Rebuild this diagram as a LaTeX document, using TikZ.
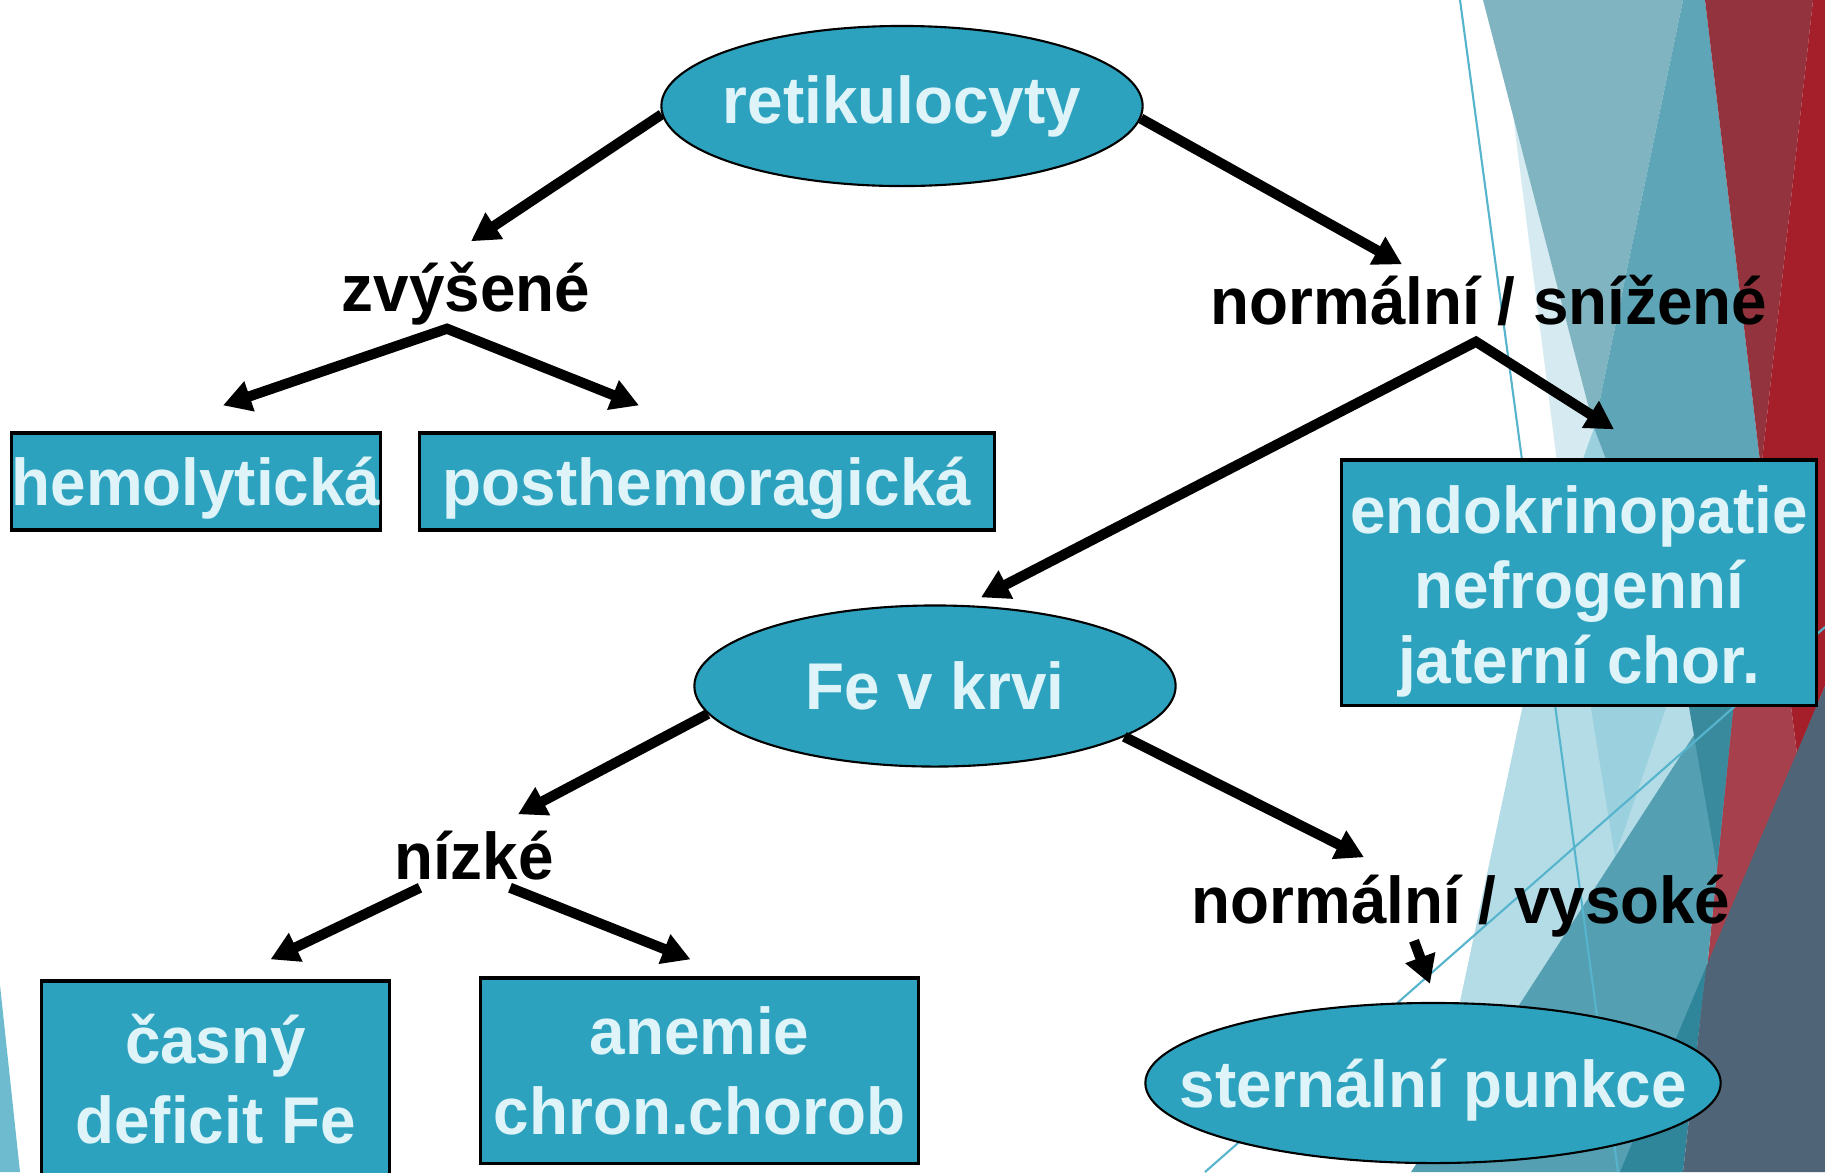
\documentclass[tikz,border=0pt]{standalone}
\usepackage{fontspec}
\setmainfont{Liberation Sans}[FakeStretch=0.965]
\usetikzlibrary{shapes.geometric,arrows.meta}

\definecolor{kastenblau}{RGB}{45,162,191}
\definecolor{schrift}{RGB}{223,244,248}
\definecolor{blass}{RGB}{213,235,241}
\definecolor{graublau}{RGB}{128,180,193}
\definecolor{hellcyan}{RGB}{155,208,222}
\definecolor{petrol}{RGB}{94,165,183}
\definecolor{dunkelrot}{RGB}{147,51,62}
\definecolor{rot}{RGB}{165,31,42}
\definecolor{hellrot}{RGB}{167,64,77}
\definecolor{hellblau}{RGB}{179,220,230}
\definecolor{mittelpetrol}{RGB}{85,159,178}
\definecolor{tiefpetrol}{RGB}{58,138,158}
\definecolor{tiefblau}{RGB}{47,133,153}
\definecolor{schiefer}{RGB}{79,100,118}
\definecolor{eckblau}{RGB}{110,187,208}
\definecolor{linie}{RGB}{86,180,205}

\tikzset{
    oval/.style={ellipse, draw, line width=0.6pt, fill=kastenblau, text=schrift, inner sep=0pt},
    kasten/.style={rectangle, draw, line width=0.9pt, fill=kastenblau, text=schrift, align=center, inner sep=0pt},
    wort/.style={anchor=base, inner sep=0pt, text height=0.48cm, text depth=0.14cm},
    pfeil/.style={line width=2.9pt, -{Triangle[length=0.28cm,width=0.30cm]}},
    doppelpfeil/.style={line width=2.9pt, line join=miter, {Triangle[length=0.28cm,width=0.30cm]}-{Triangle[length=0.28cm,width=0.30cm]}}
}

\begin{document}
\begin{tikzpicture}[x=0.01cm, y=-0.01cm, every node/.style={font=\bfseries\fontsize{18.8}{21.8}\selectfont}]
    \useasboundingbox (0,0) rectangle (1825,1172);
    \fill[white] (0,0) rectangle (1825,1172);

    \fill[blass] (1513,115) -- (1594,428) -- (1579,470) -- (1558,470) -- cycle;
    \fill[graublau] (1483,0) -- (1683,0) -- (1594,428) -- cycle;
    \fill[hellcyan] (1594,428) -- (1610,470) -- (1579,470) -- cycle;
    \fill[petrol] (1683,0) -- (1705,0) -- (1761,470) -- (1610,470) -- (1594,428) -- cycle;
    \fill[dunkelrot] (1705,0) -- (1813,0) -- (1761,470) -- cycle;
    \fill[rot] (1813,0) -- (1825,0) -- (1825,686) -- (1797,754) -- (1761,470) -- cycle;
    \fill[hellrot] (1756,470) -- (1761,470) -- (1797,754) -- (1707,969) -- cycle;
    \fill[hellblau] (1526,690) -- (1723,690) -- (1430,1143) -- cycle;
    \fill[hellcyan] (1588,690) -- (1672,690) -- (1615,857) -- cycle;
    \fill[mittelpetrol] (1723,690) -- (1735,690) -- (1707,969) -- (1680,1172) -- (1411,1172) -- cycle;
    \fill[tiefpetrol] (1686,690) -- (1735,690) -- (1717,867) -- cycle;
    \fill[tiefblau] (1620,1172) -- (1683,1172) -- (1706,967) -- cycle;
    \fill[schiefer] (1825,686) -- (1706,967) -- (1683,1172) -- (1825,1172) -- cycle;
    \fill[eckblau] (0,985) -- (20,1172) -- (0,1172) -- cycle;
    \draw[linie, line width=0.6pt] (1460,0) -- (1618,1172);
    \draw[linie, line width=0.6pt] (1205,1172) -- (1825,627);

    \path node[oval, minimum width=4.81cm, minimum height=1.60cm] (reti) at (902,106) {\makebox[0pt]{retikulocyty}}
        node[wort] (zv) at (466,311) {zvýšené}
        node[wort] (ns) at (1489,324) {normální / snížené}
        node[kasten, minimum width=3.69cm, minimum height=0.97cm, text height=0.61cm, text depth=0.14cm] (hemo) at (196,481.5) {hemolytická}
        node[kasten, minimum width=5.75cm, minimum height=0.97cm, text height=0.61cm, text depth=0.14cm] (post) at (707,481.5) {posthemoragická}
        node[kasten, minimum width=4.74cm, minimum height=2.45cm, text height=2.15cm, text depth=0.14cm, font=\bfseries\fontsize{18.8}{21.3}\selectfont] (endo) at (1579,582.5) {endokrinopatie\\nefrogenní\\jaterní chor.}
        node[oval, minimum width=4.81cm, minimum height=1.61cm] (fe) at (935,686) {\makebox[0pt]{Fe v krvi}}
        node[wort] (nz) at (474,879) {nízké}
        node[wort] (nv) at (1461,923) {normální / vysoké}
        node[kasten, minimum width=3.47cm, minimum height=1.97cm, font=\bfseries\fontsize{18.8}{22.8}\selectfont] (casny) at (215.5,1079.5) {časný\\deficit Fe}
        node[kasten, minimum width=4.37cm, minimum height=1.85cm, font=\bfseries\fontsize{18.8}{22.8}\selectfont] (anemie) at (699.5,1070.5) {anemie\\chron.chorob}
        node[oval, minimum width=5.75cm, minimum height=1.60cm, text height=0.63cm, text depth=0.14cm] (sternal) at (1433,1083) {\makebox[0pt]{sternální punkce}};

    \draw[pfeil] (reti.182) -- ([shift={(5,-21)}]zv.north);
    \draw[pfeil] (reti.357) -- ([shift={(-87,-11)}]ns.north);
    \draw[doppelpfeil] ([shift={(27,-26)}]hemo.north) -- ([shift={(-19,3)}]zv.south) -- ([shift={(-68,-26)}]post.north);
    \draw[doppelpfeil] ([shift={(46,-7)}]fe.north) -- ([shift={(-13,3)}]ns.south) -- ([shift={(35,-29)}]endo.north);
    \draw[pfeil] (fe.187) -- ([shift={(44,-16)}]nz.north);
    \draw[pfeil] (fe.345) -- ([shift={(-97,-17)}]nv.north);
    \draw[pfeil] ([shift={(-54,-6)}]nz.south) -- ([shift={(55,-20)}]casny.north);
    \draw[pfeil] ([shift={(36,-6)}]nz.south) -- ([shift={(-9,-17)}]anemie.north);
    \draw[pfeil] ([shift={(-47,3)}]nv.south) -- ([shift={(-3,-18)}]sternal.north);
\end{tikzpicture}
\end{document}
